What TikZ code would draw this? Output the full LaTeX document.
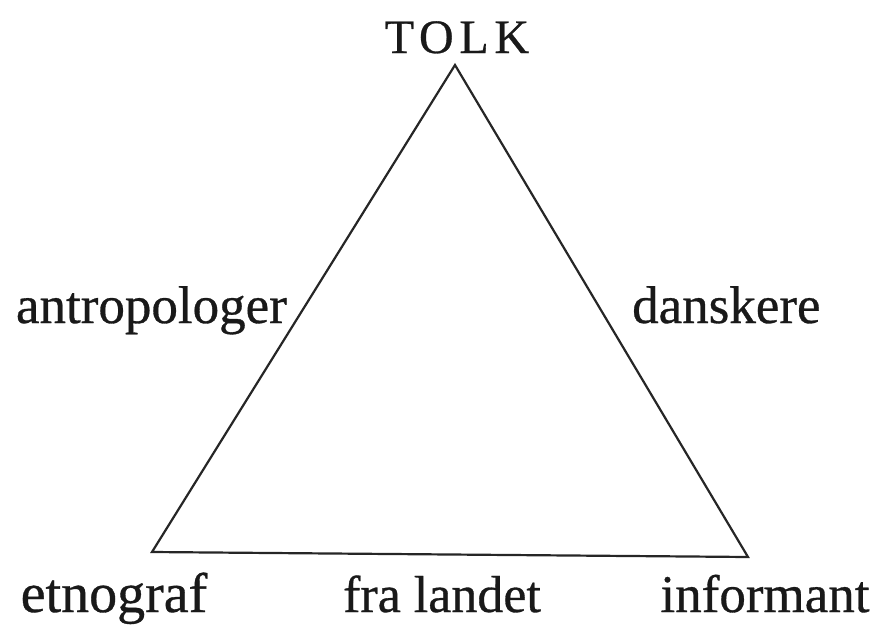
\documentclass[tikz,border=0pt]{standalone}
\usepackage{fontspec}
\setmainfont{Liberation Serif}[FakeBold=0.6]
\begin{document}
\begin{tikzpicture}[x=1pt,y=-1pt,
  lbl/.style={inner sep=0pt, font=\fontsize{53}{60}\selectfont, text=black!90},
  tri/.style={line width=2.2pt, black!85, line join=miter}]
\useasboundingbox (0,0) rectangle (884,632);
\coordinate (apex) at (455,65);
\coordinate (bl) at (152,552);
\coordinate (br) at (748,557);
\draw[tri] (apex) -- (bl) -- (br) -- cycle;
\node[lbl, anchor=base, font=\fontsize{48}{54}\selectfont\addfontfeature{LetterSpace=12}] (tolk) at (457,53) {TOLK};
\node[lbl, anchor=base east] (antro) at (287,323) {antropologer};
\node[lbl, anchor=base west] (dansk) at (632,323) {danskere};
\node[lbl, anchor=base, font=\fontsize{56}{62}\selectfont] (etno) at (114,612) {etnograf};
\node[lbl, anchor=base, font=\fontsize{52}{60}\selectfont] (fra) at (442,612) {fra landet};
\node[lbl, anchor=base] (info) at (765,612) {informant};
\end{tikzpicture}
\end{document}
